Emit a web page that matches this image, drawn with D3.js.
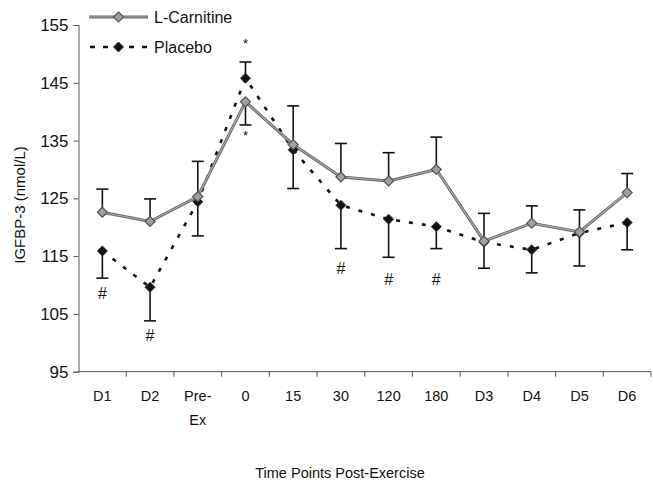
<!DOCTYPE html>
<html><head><meta charset="utf-8">
<script src="https://cdn.jsdelivr.net/npm/d3@7"></script>
<style>
html,body{margin:0;padding:0;background:#fff;}
svg{display:block;font-family:"Liberation Sans",Arial,sans-serif;}
</style></head>
<body>
<svg id="chart" width="653" height="487"></svg>
<script>
// ---- data ----
const categories = ["D1","D2","Pre-Ex","0","15","30","120","180","D3","D4","D5","D6"];
const categoryLabels = [["D1"],["D2"],["Pre-","Ex"],["0"],["15"],["30"],["120"],["180"],["D3"],["D4"],["D5"],["D6"]];
const lCarnitine = [122.6,121.0,125.3,141.7,134.3,128.7,128.0,130.0,117.6,120.7,119.2,126.0];
const lCarnitineErr = [4.0,3.9,6.1,4.0,6.7,5.8,4.9,5.6,4.8,3.0,3.8,3.3];
const placebo = [115.9,109.6,124.4,145.8,133.4,123.8,121.4,120.1,117.4,116.1,119.0,120.8];
const placeboErr = [4.7,5.8,5.9,2.8,6.7,7.5,6.6,3.8,4.5,4.0,5.7,4.7];
const yTicks = [95,105,115,125,135,145,155];
const starMarks = [{cat:"0", v:152.0},{cat:"0", v:136.1}];
const hashMarks = [{cat:"D1", v:108.6},{cat:"D2", v:101.4},{cat:"30", v:112.9},{cat:"120", v:111.0},{cat:"180", v:111.0}];
const seriesNames = ["L-Carnitine","Placebo"];

// ---- scales ----
const svg = d3.select("#chart");
const x = d3.scaleBand().domain(categories).range([78.5, 651]);
const y = d3.scaleLinear().domain([95,155]).range([371.7, 25]);
const cx = c => x(c) + x.bandwidth()/2;

// ---- axes ----
const yAxis = svg.append("g").attr("transform","translate(78.5,0)")
  .call(d3.axisLeft(y).tickValues(yTicks).tickSize(5).tickPadding(5));
yAxis.selectAll("path,line").attr("stroke","#555").attr("stroke-width",1);
yAxis.selectAll("text").attr("font-size","17px").attr("fill","#111")
  .attr("font-family","Liberation Sans, Arial, sans-serif");

const xAxisG = svg.append("g").attr("transform","translate(0,371.7)");
xAxisG.append("line").attr("x1",78.5).attr("x2",651).attr("y1",0).attr("y2",0)
  .attr("stroke","#555").attr("stroke-width",1);
const boundaries = categories.map(c => x(c)).concat([x.range()[1]]).slice(1);
xAxisG.selectAll("line.tk").data(boundaries).join("line").attr("class","tk")
  .attr("x1",d=>d).attr("x2",d=>d).attr("y1",0).attr("y2",5)
  .attr("stroke","#555").attr("stroke-width",1);
const xl = xAxisG.selectAll("text.lab").data(categories).join("text").attr("class","lab")
  .attr("x", d => cx(d)).attr("y", 29).attr("text-anchor","middle")
  .attr("font-size","14.5px").attr("fill","#111");
xl.each(function(d,i){
  const t = d3.select(this);
  categoryLabels[i].forEach((s,k)=>{
    t.append("tspan").attr("x",cx(d)).attr("dy", k===0?0:24).text(s);
  });
});

// axis titles
svg.append("text").attr("transform","translate(25,205) rotate(-90)")
  .attr("text-anchor","middle").attr("font-size","15px").attr("fill","#111")
  .text("IGFBP-3 (nmol/L)");
svg.append("text").attr("x",340).attr("y",478).attr("text-anchor","middle")
  .attr("font-size","14.5px").attr("fill","#111").text("Time Points Post-Exercise");

// ---- error bars ----
function errData(vals, errs, other){
  return categories.map((c,i)=>({c, v:vals[i], e:errs[i], dir: vals[i] >= other[i] ? 1 : -1}));
}
const errs = errData(lCarnitine,lCarnitineErr,placebo).concat(errData(placebo,placeboErr,lCarnitine));
const eg = svg.append("g").attr("stroke","#111").attr("stroke-width",1.6);
eg.selectAll("line.v").data(errs).join("line").attr("class","v")
  .attr("x1",d=>cx(d.c)).attr("x2",d=>cx(d.c))
  .attr("y1",d=>y(d.v)).attr("y2",d=>y(d.v + d.dir*d.e));
eg.selectAll("line.cap").data(errs).join("line").attr("class","cap")
  .attr("x1",d=>cx(d.c)-6).attr("x2",d=>cx(d.c)+6)
  .attr("y1",d=>y(d.v + d.dir*d.e)).attr("y2",d=>y(d.v + d.dir*d.e));

// ---- lines ----
const line = d3.line().x((d,i)=>cx(categories[i])).y(d=>y(d));
svg.append("path").datum(placebo).attr("d",line).attr("fill","none")
  .attr("stroke","#111").attr("stroke-width",2.6).attr("stroke-dasharray","4,9");
svg.append("path").datum(lCarnitine).attr("d",line).attr("fill","none")
  .attr("stroke","#666").attr("stroke-width",3);
svg.append("path").datum(lCarnitine).attr("d",line).attr("fill","none")
  .attr("stroke","#aaa").attr("stroke-width",1.2);

// ---- markers ----
const diamond = "M0,-5L5,0L0,5L-5,0Z";
svg.append("g").selectAll("path").data(placebo).join("path")
  .attr("d",diamond).attr("transform",(d,i)=>`translate(${cx(categories[i])},${y(d)})`)
  .attr("fill","#111").attr("stroke","#333").attr("stroke-width",1);
svg.append("g").selectAll("path").data(lCarnitine).join("path")
  .attr("d",diamond).attr("transform",(d,i)=>`translate(${cx(categories[i])},${y(d)})`)
  .attr("fill","#a0a0a0").attr("stroke","#555").attr("stroke-width",1.2);

// ---- significance marks ----
svg.append("g").selectAll("text").data(starMarks).join("text")
  .attr("x",d=>cx(d.cat)).attr("y",d=>y(d.v)+6).attr("text-anchor","middle")
  .attr("font-size","13px").attr("fill","#111").text("*");
svg.append("g").selectAll("text").data(hashMarks).join("text")
  .attr("x",d=>cx(d.cat)).attr("y",d=>y(d.v)+6).attr("text-anchor","middle")
  .attr("font-size","16px").attr("fill","#111").text("#");

// ---- legend ----
const lg = svg.append("g");
// L-Carnitine
lg.append("line").attr("x1",89).attr("x2",148).attr("y1",17).attr("y2",17)
  .attr("stroke","#666").attr("stroke-width",3);
lg.append("line").attr("x1",89).attr("x2",148).attr("y1",17).attr("y2",17)
  .attr("stroke","#aaa").attr("stroke-width",1.2);
lg.append("path").attr("d",diamond).attr("transform","translate(118.5,17)")
  .attr("fill","#a0a0a0").attr("stroke","#555").attr("stroke-width",1.2);
lg.append("text").attr("x",154).attr("y",23).attr("font-size","16px").attr("fill","#111").text(seriesNames[0]);
// Placebo
lg.append("line").attr("x1",90).attr("x2",150).attr("y1",47).attr("y2",47)
  .attr("stroke","#111").attr("stroke-width",2.6).attr("stroke-dasharray","5,8");
lg.append("path").attr("d",diamond).attr("transform","translate(118.5,47)")
  .attr("fill","#111").attr("stroke","#333").attr("stroke-width",1);
lg.append("text").attr("x",154).attr("y",53).attr("font-size","16px").attr("fill","#111").text(seriesNames[1]);
</script>
</body></html>
